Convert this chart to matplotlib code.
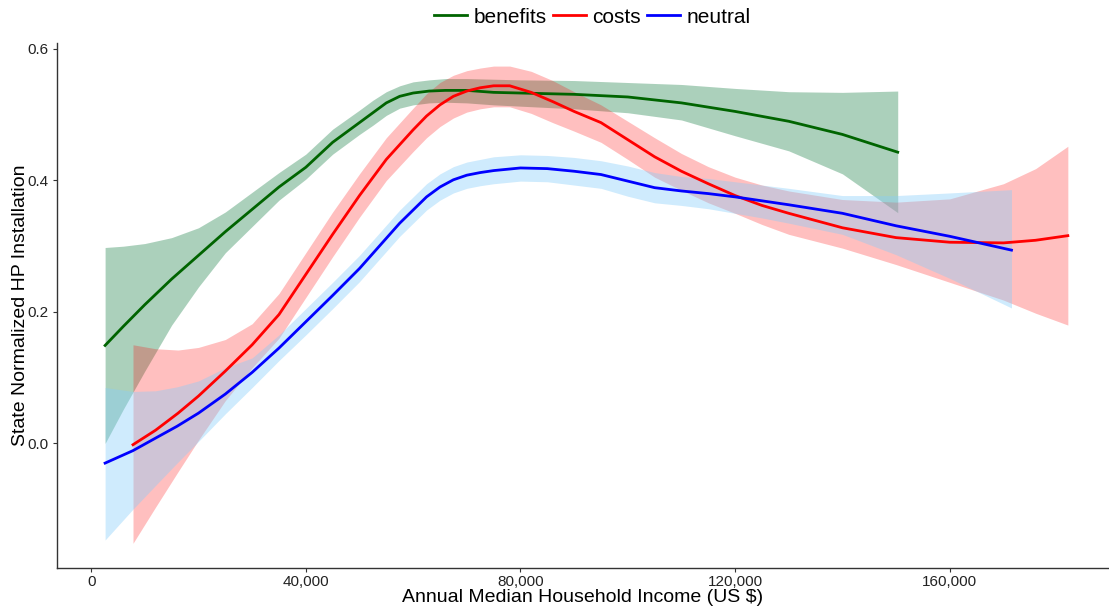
import matplotlib as mpl
mpl.use('agg')
import matplotlib.pyplot as plt
import matplotlib.ticker as mticker
import numpy as np

plt.rcParams['font.family'] = ['Liberation Sans', 'DejaVu Sans']

# income in thousands of US $
ben_x = [2.6, 6, 10, 15, 20, 25, 30, 35, 40, 45, 50, 52.5, 55, 57.5, 60, 63, 66, 70, 75, 80, 90, 100, 110, 120,
         130, 140, 150.3]
ben_y = [0.149, 0.178, 0.211, 0.250, 0.286, 0.322, 0.356, 0.390, 0.420, 0.458, 0.488, 0.503, 0.518, 0.528, 0.533,
         0.536, 0.537, 0.537, 0.534, 0.533, 0.531, 0.527, 0.518, 0.505, 0.490, 0.470, 0.443]
ben_hi = [0.298, 0.300, 0.304, 0.313, 0.328, 0.352, 0.382, 0.412, 0.440, 0.478, 0.507, 0.522, 0.535, 0.544, 0.550,
          0.553, 0.555, 0.555, 0.554, 0.553, 0.552, 0.549, 0.546, 0.540, 0.535, 0.534, 0.536]
ben_lo = [0.000, 0.052, 0.110, 0.180, 0.238, 0.290, 0.330, 0.370, 0.402, 0.440, 0.470, 0.484, 0.499, 0.510, 0.515,
          0.518, 0.519, 0.518, 0.515, 0.513, 0.509, 0.503, 0.492, 0.468, 0.445, 0.410, 0.351]

cost_x = [7.8, 12, 16.2, 20, 25, 30, 35, 40, 45, 50, 55, 60, 62.5, 65, 67.5, 70, 72.5, 75, 78, 82, 86, 90, 95, 100,
          105, 110, 115, 120, 125, 130, 140, 150, 160, 170, 176, 182]
cost_y = [-0.002, 0.020, 0.046, 0.072, 0.110, 0.150, 0.196, 0.257, 0.318, 0.377, 0.432, 0.477, 0.498, 0.515, 0.528,
          0.536, 0.541, 0.544, 0.544, 0.534, 0.520, 0.505, 0.488, 0.462, 0.436, 0.414, 0.395, 0.377, 0.362, 0.350,
          0.328, 0.313, 0.306, 0.305, 0.309, 0.316]
cost_hi = [0.150, 0.144, 0.142, 0.146, 0.158, 0.182, 0.228, 0.290, 0.352, 0.410, 0.465, 0.510, 0.532, 0.549, 0.560,
           0.567, 0.571, 0.574, 0.574, 0.566, 0.552, 0.535, 0.515, 0.490, 0.465, 0.441, 0.421, 0.405, 0.393, 0.384,
           0.371, 0.367, 0.372, 0.395, 0.418, 0.452]
cost_lo = [-0.152, -0.097, -0.043, 0.005, 0.065, 0.115, 0.160, 0.222, 0.284, 0.344, 0.400, 0.444, 0.465, 0.482,
           0.495, 0.504, 0.509, 0.512, 0.512, 0.502, 0.488, 0.475, 0.458, 0.432, 0.405, 0.385, 0.366, 0.350, 0.333,
           0.318, 0.297, 0.272, 0.245, 0.218, 0.198, 0.180]

neu_x = [2.6, 7.8, 12, 16, 20, 25, 30, 35, 40, 45, 50, 55, 57.5, 60, 62.5, 65, 67.5, 70, 72.5, 75, 80, 85, 90, 95,
         100, 105, 110, 115, 120, 125, 130, 140, 150, 160, 171.5]
neu_y = [-0.030, -0.011, 0.008, 0.026, 0.046, 0.075, 0.108, 0.145, 0.185, 0.225, 0.266, 0.312, 0.335, 0.355, 0.375,
         0.390, 0.401, 0.408, 0.412, 0.415, 0.419, 0.418, 0.414, 0.409, 0.399, 0.389, 0.384, 0.380, 0.375, 0.369,
         0.363, 0.350, 0.331, 0.315, 0.294]
neu_hi = [0.085, 0.079, 0.080, 0.086, 0.095, 0.115, 0.130, 0.165, 0.205, 0.245, 0.286, 0.332, 0.355, 0.375, 0.395,
          0.410, 0.421, 0.428, 0.432, 0.436, 0.439, 0.438, 0.435, 0.430, 0.422, 0.412, 0.406, 0.403, 0.398, 0.393,
          0.388, 0.377, 0.377, 0.381, 0.386]
neu_lo = [-0.147, -0.100, -0.064, -0.030, 0.003, 0.045, 0.085, 0.126, 0.165, 0.205, 0.246, 0.292, 0.315, 0.335,
          0.355, 0.370, 0.381, 0.388, 0.392, 0.395, 0.399, 0.398, 0.393, 0.388, 0.376, 0.366, 0.362, 0.357, 0.350,
          0.343, 0.335, 0.318, 0.287, 0.251, 0.206]

fig = plt.figure(figsize=(11.09, 6.10), dpi=100)
ax = fig.add_axes([0.0517, 0.0684, 0.947, 0.861])

k = 1000
ax.fill_between(np.array(ben_x) * k, ben_lo, ben_hi, color='seagreen', alpha=0.4, linewidth=0)
ax.plot(np.array(ben_x) * k, ben_y, color='darkgreen', lw=2, label='benefits')
ax.fill_between(np.array(cost_x) * k, cost_lo, cost_hi, color='red', alpha=0.25, linewidth=0)
ax.plot(np.array(cost_x) * k, cost_y, color='red', lw=2, label='costs')
ax.fill_between(np.array(neu_x) * k, neu_lo, neu_hi, color='lightskyblue', alpha=0.4, linewidth=0)
ax.plot(np.array(neu_x) * k, neu_y, color='blue', lw=2, label='neutral')

ax.set_xlim(-6300, 189400)
ax.set_ylim(-0.190, 0.609)
ax.set_xticks([0, 40000, 80000, 120000, 160000])
ax.xaxis.set_major_formatter(mticker.FuncFormatter(lambda v, p: f'{int(v):,}'))
ax.set_yticks([0.0, 0.2, 0.4, 0.6])
ax.yaxis.set_major_formatter(mticker.FormatStrFormatter('%.1f'))
ax.tick_params(labelsize=11, colors='#333333', length=3, width=0.8)
ax.tick_params(axis='both', labelcolor='#222222')
ax.tick_params(axis='x', pad=1.5)

for s in ['top', 'right']:
    ax.spines[s].set_visible(False)
for s in ['left', 'bottom']:
    ax.spines[s].set_color('#333333')
    ax.spines[s].set_linewidth(1.0)

ax.set_xlabel('Annual Median Household Income (US $)', fontsize=14, labelpad=0)
ax.set_ylabel('State Normalized HP Installation', fontsize=14, labelpad=-1)

fig.legend(loc='center', bbox_to_anchor=(0.534, 0.972), ncol=3, frameon=False, fontsize=15,
           handlelength=1.6, columnspacing=0.3, handletextpad=0.3)

plt.savefig('out.png', dpi=100)
plt.close(fig)
